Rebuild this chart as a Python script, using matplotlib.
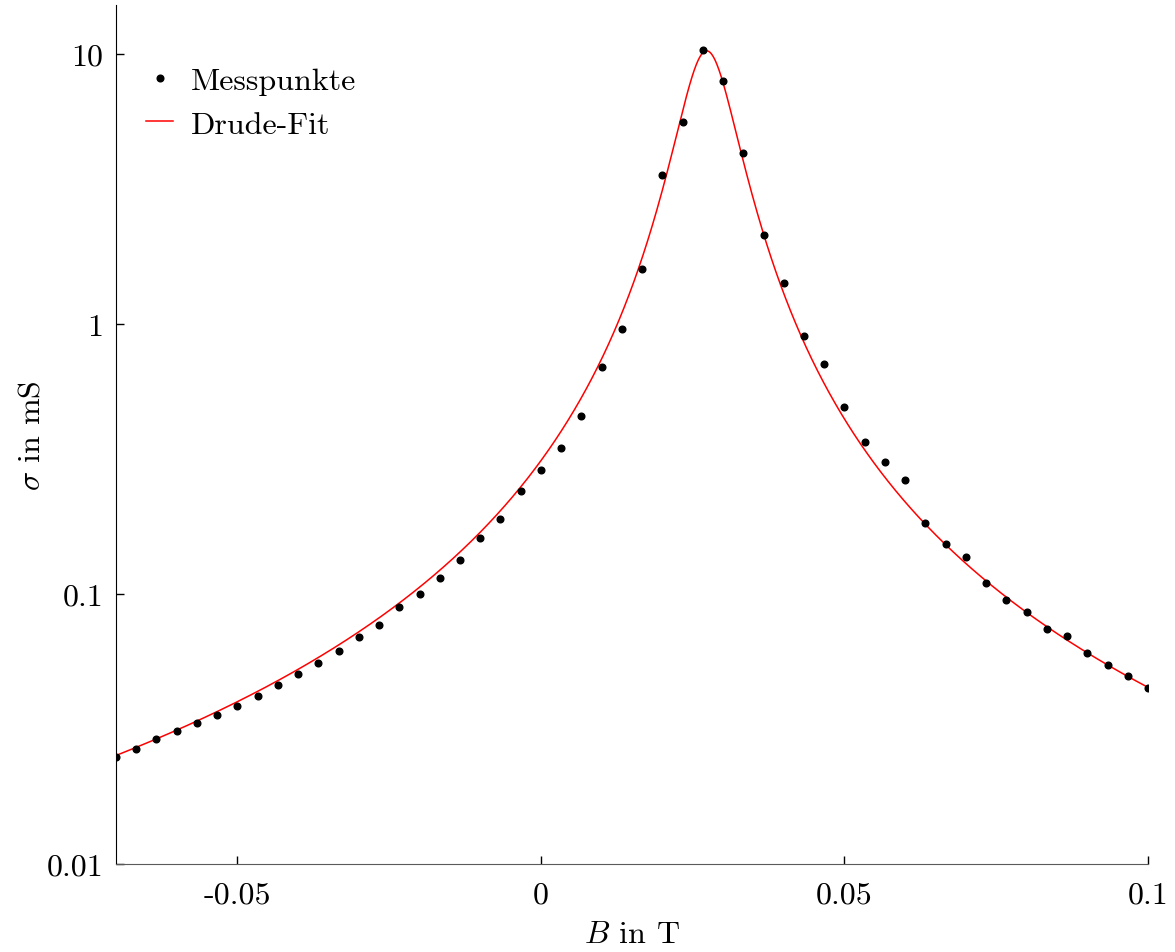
"""Drude fit of the magnetoconductance, log scale."""
import numpy as np
import matplotlib.pyplot as plt
from matplotlib.ticker import FixedLocator, FuncFormatter, NullLocator

plt.rcParams['font.family'] = 'serif'
plt.rcParams['font.serif'] = ['cmr10']
plt.rcParams['mathtext.fontset'] = 'cm'
plt.rcParams['axes.unicode_minus'] = False
plt.rcParams['axes.formatter.use_mathtext'] = True

# measured points: B in T, sigma in mS
B_start, B_step, n_points = -0.07, 1 / 300, 52
sigma = [
    0.0249, 0.0267, 0.0290, 0.0311, 0.0333, 0.0356, 0.0385, 0.0419, 0.0460,
    0.0505, 0.0555, 0.0615, 0.0693, 0.0767, 0.0895, 0.100, 0.1146, 0.1336,
    0.161, 0.190, 0.241, 0.288, 0.347, 0.456, 0.693, 0.958, 1.60, 3.56, 5.60,
    10.35, 7.94, 4.30, 2.14, 1.42, 0.903, 0.711, 0.493, 0.366, 0.308, 0.264,
    0.183, 0.153, 0.137, 0.110, 0.095, 0.0858, 0.0742, 0.0698, 0.0604,
    0.0545, 0.0497, 0.0449,
]
B = B_start + B_step * np.arange(n_points)

# fit parameters of the Drude model
sigma0 = 10.26   # mS
B0 = 0.0273      # T
mu = 207.0       # 1/T

x_ticks = [-0.05, 0, 0.05, 0.1]
y_ticks = [0.01, 0.1, 1, 10]


def drude(b):
    return sigma0 / (1 + (mu * (b - B0)) ** 2)


fig = plt.figure(figsize=(11.75, 9.53), dpi=100)
ax = fig.add_axes([0.0987, 0.0923, 0.8783, 0.9017])

b_fit = np.linspace(-0.07, 0.1, 2000)
ax.plot(B, sigma, 'o', color='black', markersize=4.8, label='Messpunkte',
        zorder=3)
ax.plot(b_fit, drude(b_fit), '-', color='red', linewidth=1.1,
        label='Drude-Fit')

ax.set_yscale('log')
ax.set_xlim(-0.07, 0.1)
ax.set_ylim(0.01, 15.2)

fmt = FuncFormatter(lambda v, pos: '{:g}'.format(v))
ax.xaxis.set_major_locator(FixedLocator(x_ticks))
ax.yaxis.set_major_locator(FixedLocator(y_ticks))
ax.yaxis.set_minor_locator(NullLocator())
ax.xaxis.set_major_formatter(fmt)
ax.yaxis.set_major_formatter(fmt)
ax.tick_params(direction='in', length=6, width=1, labelsize=23)
ax.tick_params(axis='x', pad=12)
ax.tick_params(axis='y', pad=9)

ax.spines['top'].set_visible(False)
ax.spines['right'].set_visible(False)
ax.spines['bottom'].set_color('#5a5a5a')

ax.set_xlabel(r'$B$ in T', fontsize=23, labelpad=9)
ax.set_ylabel(r'$\sigma$ in mS', fontsize=23, labelpad=1)

ax.legend(loc='upper left', frameon=False, fontsize=23, handlelength=0.85,
          handletextpad=0.55, labelspacing=0.48, borderaxespad=0.0,
          bbox_to_anchor=(0.017, 0.943))

fig.savefig('out.png', dpi=100)
